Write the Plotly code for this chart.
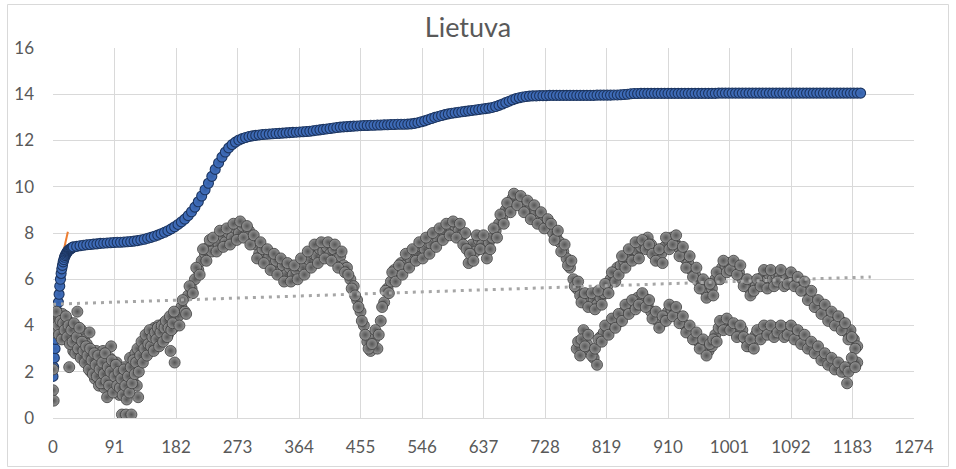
import plotly.graph_objects as go

# ---- data -------------------------------------------------------------
# cumulative series (blue): daily for the first month, then every 5 days
blue_days = list(range(0, 31)) + list(range(35, 1196, 5))
blue_vals = [
    1.8, 2.2, 2.6, 3.0, 3.4, 3.8, 4.2, 4.6, 5.0, 5.35,
    5.7, 6.0, 6.25, 6.45, 6.6, 6.75, 6.85, 6.95, 7.02, 7.08,
    7.13, 7.18, 7.22, 7.25, 7.28, 7.3, 7.32, 7.34, 7.36, 7.38,
    7.4,
    7.42, 7.45, 7.47, 7.49, 7.5, 7.52, 7.53, 7.55, 7.56, 7.57,
    7.58, 7.59, 7.6, 7.6, 7.61, 7.62, 7.63, 7.65, 7.67, 7.7,
    7.73, 7.77, 7.81, 7.86, 7.91, 7.97, 8.03, 8.1, 8.18, 8.27,
    8.37, 8.48, 8.6, 8.75, 8.92, 9.12, 9.35, 9.6, 9.87, 10.15,
    10.45, 10.75, 11.03, 11.28, 11.5, 11.68, 11.82, 11.93, 12.02, 12.08,
    12.13, 12.17, 12.2, 12.22, 12.24, 12.26, 12.27, 12.28, 12.29, 12.3,
    12.31, 12.32, 12.33, 12.34, 12.35, 12.36, 12.37, 12.38, 12.39, 12.4,
    12.42, 12.44, 12.46, 12.48, 12.5, 12.52, 12.54, 12.56, 12.58, 12.59,
    12.6, 12.61, 12.62, 12.63, 12.64, 12.65, 12.65, 12.66, 12.66, 12.67,
    12.67, 12.68, 12.68, 12.69, 12.69, 12.7, 12.7, 12.7, 12.71, 12.72,
    12.74, 12.77, 12.81, 12.85, 12.9, 12.95, 13.0, 13.04, 13.08, 13.12,
    13.15, 13.18, 13.2, 13.22, 13.24, 13.26, 13.28, 13.3, 13.32, 13.34,
    13.36, 13.38, 13.4, 13.43, 13.47, 13.52, 13.58, 13.64, 13.7, 13.76,
    13.81, 13.85, 13.88, 13.9, 13.92, 13.93, 13.93, 13.94, 13.94, 13.94,
    13.95, 13.95, 13.95, 13.95, 13.95, 13.95, 13.95, 13.95, 13.95, 13.95,
    13.95, 13.95, 13.95, 13.95, 13.96, 13.96, 13.96, 13.96, 13.96, 13.97,
    13.97, 13.98, 13.99, 14.0, 14.02, 14.03, 14.03, 14.04, 14.04, 14.04,
    14.04, 14.04, 14.04, 14.04, 14.04, 14.04, 14.04, 14.04, 14.04, 14.04,
    14.04, 14.04, 14.04, 14.04, 14.04, 14.04, 14.04, 14.04, 14.04, 14.04,
    14.05, 14.05, 14.05, 14.05, 14.05, 14.05, 14.05, 14.05, 14.05, 14.05,
    14.05, 14.05, 14.05, 14.05, 14.05, 14.05, 14.05, 14.05, 14.05, 14.05,
    14.05, 14.05, 14.05, 14.05, 14.05, 14.05, 14.05, 14.05, 14.05, 14.05,
    14.05, 14.05, 14.05, 14.05, 14.05, 14.05, 14.05, 14.05, 14.05, 14.05,
    14.05, 14.05, 14.05,
]

# gray series, main band: every 2 days at first, then every 5 days
gray_days = list(range(0, 181, 2)) + list(range(185, 1191, 5))
gray_vals = [
    # days 0..180, step 2
    2.1, 3.7, 4.1, 3.9, 4.4, 4.2, 3.8, 4.5, 4.0, 3.7,
    4.3, 3.9, 2.2, 4.1, 3.5, 2.9, 4.0, 3.6, 4.6, 3.3,
    3.0, 3.8, 2.7, 3.4, 2.5, 3.2, 2.3, 3.7, 2.0, 2.8,
    2.4, 1.7, 2.9, 2.2, 1.4, 2.6, 2.0, 2.9, 1.3, 2.3,
    0.9, 1.9, 2.6, 3.1, 1.6, 2.1, 1.2, 2.4, 1.7, 1.0,
    2.0, 0.15, 1.5, 2.2, 0.15, 1.2, 1.9, 2.6, 0.15, 1.6,
    2.1, 2.8, 1.4, 0.9, 2.4, 3.0, 2.6, 3.2, 2.8, 3.5,
    3.0, 3.4, 2.9, 3.7, 3.3, 3.9, 3.2, 3.6, 4.0, 3.4,
    3.8, 3.5, 4.1, 3.7, 4.0, 3.6, 4.2, 2.9, 4.3, 3.9,
    2.4,
    # days 185..1190, step 5
    4.4, 4.8, 4.6, 5.3, 5.6, 6.0, 6.4, 6.8, 7.1, 7.4,
    7.2, 7.7, 7.5, 7.9, 7.6, 8.0, 7.8, 8.2, 8.0, 8.3,
    7.9, 8.1, 7.6, 7.5, 7.1, 7.3, 6.8, 7.0, 6.6, 6.8,
    6.3, 6.6, 6.2, 6.5, 6.2, 6.4, 6.6, 6.5, 6.9, 6.8,
    7.1, 7.0, 7.3, 7.2, 7.4, 7.1, 7.3, 6.9, 7.0, 6.6,
    6.5, 6.0, 5.7, 5.1, 4.6, 4.0, 3.3, 2.9, 3.4, 3.0,
    4.2, 5.0, 5.6, 5.9, 6.4, 6.2, 6.7, 6.6, 7.0, 6.8,
    7.2, 7.1, 7.4, 7.3, 7.6, 7.5, 7.8, 7.7, 8.1, 8.0,
    8.3, 8.2, 8.3, 8.1, 7.9, 8.0, 6.7, 7.5, 7.2, 7.7,
    7.5, 7.3, 7.6, 7.8, 8.1, 8.4, 8.7, 9.0, 9.2, 9.5,
    9.6, 9.4, 9.3, 9.1, 9.0, 8.8, 8.9, 8.6, 8.5, 8.4,
    8.2, 8.0, 7.8, 7.6, 7.2, 6.9, 6.5, 6.0, 5.6, 5.3,
    5.1, 5.2, 5.0, 5.1, 4.9, 5.2, 5.4, 5.7, 6.0, 6.2,
    6.5, 6.6, 6.8, 7.0, 7.1, 7.3, 7.2, 7.4, 7.6, 7.8,
    7.5, 7.2, 6.9, 7.1, 7.4, 7.7, 7.8, 7.6, 7.4, 7.1,
    6.9, 6.7, 6.4, 6.2, 5.9, 5.7, 5.5, 5.4, 5.6, 6.0,
    6.3, 6.5, 6.6, 6.7, 6.5, 6.6, 6.3, 6.0, 5.7, 5.6,
    5.8, 5.7, 6.0, 6.1, 5.9, 6.2, 6.0, 6.2, 6.1, 6.0,
    6.2, 5.9, 6.1, 5.8, 5.9, 5.6, 5.5, 5.2, 5.1, 4.8,
    4.9, 4.6, 4.5, 4.3, 4.4, 4.1, 4.2, 3.9, 3.7, 3.8,
    3.4, 3.1,
]

# in-between days of the main band (odd days early on, then day 187, 192, ...)
gray_mid_days = list(range(1, 180, 2)) + list(range(187, 1188, 5))
gray_mid_vals = [
    # days 1..179, step 2
    4.3, 3.9, 4.6, 4.0, 3.6, 4.2, 3.4, 4.1, 3.8, 4.4,
    3.5, 4.0, 3.2, 3.8, 3.3, 4.1, 2.8, 3.5, 3.0, 3.9,
    2.6, 3.3, 2.9, 2.4, 3.1, 2.7, 2.1, 3.0, 2.5, 1.9,
    2.8, 2.3, 1.8, 2.7, 2.1, 1.5, 2.4, 1.9, 2.8, 1.6,
    2.2, 1.4, 2.0, 2.5, 1.1, 1.8, 2.3, 1.4, 2.0, 1.3,
    1.7, 1.0, 2.1, 1.4, 0.8, 1.8, 1.1, 2.2, 1.5, 2.5,
    1.9, 2.4, 3.0, 2.0, 2.7, 3.3, 2.4, 3.0, 3.6, 2.7,
    3.2, 3.8, 3.1, 3.5, 2.9, 3.7, 3.4, 3.9, 3.1, 3.7,
    4.0, 3.3, 3.9, 4.2, 3.5, 3.9, 4.4, 3.8, 4.1, 4.6,
    # days 187..1187, step 5
    4.0, 5.1, 4.5, 5.7, 5.4, 6.5, 6.2, 7.3, 6.8, 7.7,
    7.8, 7.2, 8.1, 7.4, 8.2, 7.5, 8.4, 7.7, 8.5, 7.8,
    8.3, 7.5, 7.9, 6.9, 7.6, 6.7, 7.3, 6.4, 7.1, 6.2,
    6.9, 5.9, 6.7, 5.9, 6.6, 6.0, 6.9, 6.2, 7.2, 6.5,
    7.5, 6.7, 7.6, 6.9, 7.6, 6.8, 7.5, 6.5, 7.2, 6.3,
    6.2, 5.6, 5.3, 4.8, 4.2, 3.6, 3.0, 3.2, 3.8, 3.6,
    4.8, 5.5, 5.4, 6.3, 5.9, 6.6, 6.2, 7.1, 6.5, 7.3,
    6.8, 7.6, 6.9, 7.8, 7.1, 8.0, 7.4, 8.2, 7.7, 8.4,
    7.9, 8.5, 7.8, 8.4, 7.5, 7.3, 7.1, 6.8, 7.9, 7.3,
    7.9, 6.9, 7.3, 8.2, 7.8, 8.8, 8.4, 9.3, 8.9, 9.7,
    9.2, 9.6, 8.9, 9.4, 8.6, 9.2, 8.4, 8.9, 8.2, 8.6,
    8.4, 7.7, 8.1, 7.2, 7.5, 6.6, 6.8, 5.7, 5.9, 5.0,
    5.4, 4.8, 5.4, 4.7, 5.5, 4.9, 5.8, 5.4, 6.3, 5.9,
    6.2, 7.0, 6.5, 7.3, 6.8, 7.6, 6.9, 7.7, 7.3, 7.5,
    7.1, 6.8, 7.3, 6.7, 7.8, 7.3, 7.5, 7.9, 7.0, 7.4,
    6.5, 7.0, 6.1, 6.5, 5.6, 6.0, 5.2, 5.8, 5.3, 6.3,
    6.0, 6.8, 6.3, 6.4, 6.8, 6.2, 6.6, 5.7, 6.0, 5.3,
    5.5, 6.0, 5.7, 6.4, 5.6, 6.4, 5.7, 5.9, 6.4, 5.7,
    5.8, 6.3, 5.7, 6.1, 5.5, 5.9, 5.1, 5.5, 4.8, 5.1,
    4.5, 4.9, 4.2, 4.6, 4.0, 4.4, 3.8, 4.1, 3.4, 3.5,
    3.0,
]

# a few extra low readings at the very start
gray_extra_days = [0, 1]
gray_extra_vals = [1.2, 0.75]

# second gray band, from day 775 onward
gray2_days = list(range(775, 1191, 5)) + list(range(777, 1188, 5))
gray2_vals = [
    # days 775..1190, step 5
    3.0, 2.7, 3.8, 3.2, 2.9, 2.6, 2.3, 3.5, 3.7, 3.9,
    4.0, 4.2, 4.1, 4.4, 4.6, 4.9, 4.7, 5.0, 5.2, 5.1,
    5.2, 4.9, 4.6, 4.3, 4.2, 4.1, 4.4, 4.6, 4.7, 4.5,
    4.4, 4.2, 4.0, 3.8, 3.6, 3.4, 3.3, 3.1, 3.0, 2.9,
    3.1, 3.6, 3.9, 4.1, 4.0, 4.1, 3.9, 3.8, 3.7, 3.8,
    3.4, 3.1, 3.3, 3.6, 3.7, 3.8, 3.9, 3.7, 3.8, 3.9,
    3.8, 3.7, 3.9, 3.8, 3.7, 3.6, 3.5, 3.4, 3.3, 3.1,
    3.0, 2.9, 2.7, 2.6, 2.5, 2.4, 2.3, 2.2, 2.1, 2.0,
    1.5, 2.2, 2.3, 2.4,
    # days 777..1187, step 5
    3.3, 3.4, 3.1, 3.6, 2.7, 3.0, 3.4, 3.3, 4.0, 3.6,
    4.3, 3.9, 4.5, 4.2, 4.9, 4.5, 5.1, 4.7, 4.9, 5.4,
    4.8, 5.1, 4.3, 4.6, 3.9, 4.4, 4.2, 4.9, 4.4, 4.8,
    4.1, 4.4, 3.7, 4.0, 3.4, 3.7, 3.0, 3.4, 2.7, 3.2,
    3.4, 3.3, 4.2, 3.8, 4.3, 3.8, 4.1, 3.5, 4.0, 3.5,
    3.1, 3.4, 3.0, 3.8, 3.4, 4.0, 3.6, 4.0, 3.5, 3.7,
    4.0, 3.5, 3.6, 4.0, 3.4, 3.8, 3.2, 3.6, 3.0, 3.3,
    2.8, 3.1, 2.5, 2.8, 2.3, 2.6, 2.1, 2.4, 2.0, 2.2,
    2.0, 2.6, 2.2,
]

# linear trend of the gray series (end points)
trend_days = [0, 1210]
trend_vals = [4.92, 6.1]

# short orange segment near the start
orange_days = [10, 22]
orange_vals = [6.5, 8.05]

x_ticks = [0, 91, 182, 273, 364, 455, 546, 637, 728, 819, 910, 1001, 1092, 1183, 1274]
y_ticks = [0, 2, 4, 6, 8, 10, 12, 14, 16]

# ---- figure -----------------------------------------------------------
W, H = 956, 469
ML, MR, MT, MB = 53, 42, 48, 51
FONT = "Lato, 'Open Sans', sans-serif"
TEXT = "#595959"
GRID = "#D9D9D9"

gray_marker = dict(
    size=11,
    color="#959595",
    gradient=dict(type="radial", color="#555555"),
    line=dict(color="#3C3C3C", width=0.8),
)

fig = go.Figure()

fig.add_trace(go.Scatter(
    x=orange_days, y=orange_vals, mode="lines",
    line=dict(color="#ED7D31", width=2), hoverinfo="skip",
))

fig.add_trace(go.Scatter(
    x=blue_days, y=blue_vals, mode="markers",
    marker=dict(size=10, color="#4270BE",
                gradient=dict(type="radial", color="#3560A8"),
                line=dict(color="#1C3560", width=1.1)),
))

fig.add_trace(go.Scatter(
    x=gray_days + gray_mid_days + gray_extra_days,
    y=gray_vals + gray_mid_vals + gray_extra_vals,
    mode="markers", marker=gray_marker,
))

fig.add_trace(go.Scatter(
    x=gray2_days, y=gray2_vals, mode="markers", marker=gray_marker,
))

fig.add_trace(go.Scatter(
    x=trend_days, y=trend_vals, mode="lines",
    line=dict(color="#A6A6A6", width=3, dash="3px,5px"), hoverinfo="skip",
))

# outer chart frame, in paper coordinates derived from the margins
pw = W - ML - MR
ph = H - MT - MB
def px_to_paper_x(px):
    return (px - ML) / pw
def py_to_paper_y(py):
    return ((H - py) - MB) / ph

fig.add_shape(
    type="rect", xref="paper", yref="paper",
    x0=px_to_paper_x(7.5), x1=px_to_paper_x(948.5),
    y0=py_to_paper_y(466.5), y1=py_to_paper_y(4.5),
    line=dict(color=GRID, width=1), fillcolor="rgba(0,0,0,0)", layer="below",
)

fig.update_layout(
    width=W, height=H,
    margin=dict(l=ML, r=MR, t=MT, b=MB, pad=0),
    paper_bgcolor="white", plot_bgcolor="white",
    showlegend=False,
    font=dict(family=FONT, color=TEXT, size=17),
    title=dict(
        text="Lietuva", x=468 / W, xref="container", xanchor="center",
        y=1 - 28 / H, yref="container", yanchor="middle",
        font=dict(family=FONT, size=27, color=TEXT),
    ),
    xaxis=dict(
        range=[0, 1274], tickvals=x_ticks, ticktext=[str(v) for v in x_ticks],
        showgrid=True, gridcolor=GRID, gridwidth=1,
        zeroline=False, showline=True, linecolor=GRID, linewidth=1,
        ticks="", ticklabelstandoff=14,
        tickfont=dict(family=FONT, size=17, color=TEXT),
    ),
    yaxis=dict(
        range=[0, 16], tickvals=y_ticks, ticktext=[str(v) for v in y_ticks],
        showgrid=True, gridcolor=GRID, gridwidth=1,
        zeroline=False, showline=False,
        ticks="", ticklabelstandoff=18,
        tickfont=dict(family=FONT, size=17, color=TEXT),
    ),
)

fig.write_html("out.html")
